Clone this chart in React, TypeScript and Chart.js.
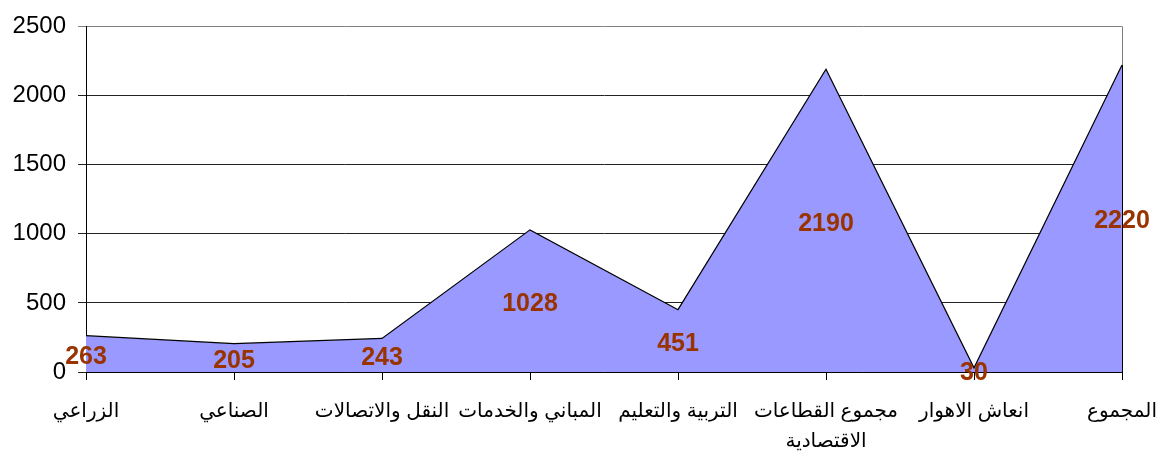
import React, { useEffect, useRef } from "react";
import { Chart, registerables } from "chart.js";

Chart.register(...registerables);

const categories: (string | string[])[] = [
  "الزراعي",
  "الصناعي",
  "النقل والاتصالات",
  "المباني والخدمات",
  "التربية والتعليم",
  ["مجموع القطاعات", "الاقتصادية"],
  "انعاش الاهوار",
  "المجموع",
];
const values = [263, 205, 243, 1028, 451, 2190, 30, 2220];
const yMin = 0;
const yMax = 2500;
const yStep = 500;

const labelPlugin = {
  id: "valueLabels",
  afterDatasetsDraw(chart: any) {
    const { ctx, scales, chartArea } = chart;
    const xs = scales.x;
    const ys = scales.y;
    ctx.save();
    ctx.strokeStyle = "#808080";
    ctx.lineWidth = 1;
    ctx.beginPath();
    ctx.moveTo(Math.round(chartArea.right) + 0.5, chartArea.top);
    ctx.lineTo(Math.round(chartArea.right) + 0.5, chartArea.bottom);
    ctx.stroke();
    const last = values.length - 1;
    const lx = xs.getPixelForValue(last);
    ctx.strokeStyle = "#000";
    ctx.beginPath();
    ctx.moveTo(Math.round(lx) + 0.5, ys.getPixelForValue(values[last]));
    ctx.lineTo(Math.round(lx) + 0.5, ys.getPixelForValue(0));
    ctx.stroke();
    ctx.fillStyle = "#993300";
    ctx.font = "bold 25px 'Liberation Sans', Arial, sans-serif";
    ctx.textAlign = "center";
    ctx.textBaseline = "middle";
    values.forEach((v, i) => {
      const x = xs.getPixelForValue(i);
      const y = ys.getPixelForValue(v / 2) + 3;
      ctx.fillText(String(v), x, y);
    });
    ctx.restore();
  },
};

export default function App() {
  const ref = useRef<HTMLCanvasElement | null>(null);
  useEffect(() => {
    document.body.style.margin = "0";
    const c = ref.current!;
    const chart = new Chart(c, {
      type: "line",
      data: {
        labels: categories,
        datasets: [
          {
            data: values,
            fill: "origin",
            backgroundColor: "#9999FF",
            borderColor: "#000",
            borderWidth: 1.2,
            pointRadius: 0,
            tension: 0,
          },
        ],
      },
      options: {
        animation: false,
        responsive: false,
        maintainAspectRatio: false,
        layout: { padding: { top: 26, right: 34, left: 0, bottom: 0 } },
        plugins: { legend: { display: false }, tooltip: { enabled: false } },
        scales: {
          x: {
            offset: false,
            border: { display: true, color: "#000", width: 1 },
            grid: { drawOnChartArea: false, drawTicks: true, tickLength: 8, color: "#000" },
            ticks: {
              autoSkip: false,
              maxRotation: 0,
              minRotation: 0,
              color: "#000",
              padding: 16,
              font: { family: "'Liberation Sans', Arial, 'DejaVu Sans', sans-serif", size: 20, lineHeight: 1.5 },
            },
            afterFit(scale: any) {
              scale.height = 82;
              scale.paddingRight = 0;
              scale.paddingLeft = 0;
            },
          },
          y: {
            min: yMin,
            max: yMax,
            border: { display: true, color: "#000", width: 1 },
            grid: {
              color: (ctx: any) => (ctx.tick && ctx.tick.value === yMax ? "#808080" : "#222"),
              tickLength: 8,
              drawTicks: true,
            },
            ticks: {
              stepSize: yStep,
              color: "#000",
              padding: 12,
              callback: (v: any) => String(v),
              font: { family: "'Liberation Sans', Arial, sans-serif", size: 24 },
            },
            afterFit(scale: any) {
              scale.width = 86;
            },
          },
        },
      },
      plugins: [labelPlugin],
    });
    return () => chart.destroy();
  }, []);
  return <canvas ref={ref} width={1156} height={454} style={{ display: "block" }} />;
}
